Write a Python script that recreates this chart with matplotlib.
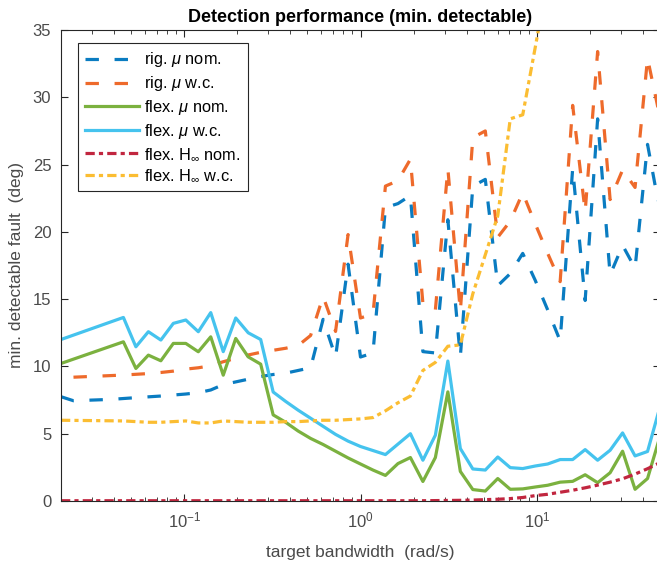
import numpy as np
import matplotlib
matplotlib.use('Agg')
import matplotlib.pyplot as plt

nan = np.nan

# target bandwidth grid (rad/s)
bandwidth = [0.02, 0.02354, 0.02771, 0.03262, 0.03839, 0.04519, 0.05319, 0.06261,
             0.07369, 0.08674, 0.1021, 0.1202, 0.1414, 0.1665, 0.1960, 0.2307,
             0.2715, 0.3196, 0.3762, 0.4428, 0.5212, 0.6135, 0.7221, 0.8500,
             1.0, 1.177, 1.385, 1.631, 1.919, 2.259, 2.659, 3.130,
             3.684, 4.337, 5.105, 6.008, 7.072, 8.324, 9.798, 11.53,
             13.57, 15.98, 18.81, 22.14, 26.06, 30.67, 36.10, 42.49, 50.0]

rig_mu_nom = [7.75, 7.45, nan, nan, 7.55, nan, 7.68, nan,
              7.8, nan, 7.95, 8.05, 8.25, 8.65, 8.85, 9.05,
              9.25, 9.4, 9.5, 9.7, 9.9, 13.5, 10.7, 17.6,
              10.7, 11.0, 21.8, 22.1, 22.7, 11.1, 11.0, 20.9,
              10.7, 23.4, 23.9, 16.0, 16.9, 18.4, 16.4, 14.2,
              11.9, 24.7, 14.9, 28.4, 16.8, 19.0, 17.3, 26.5, 21.5]

rig_mu_wc = [nan, 9.2, nan, 9.28, nan, 9.36, nan, 9.47,
             9.55, 9.65, 9.8, 9.9, 10.05, 10.35, 10.6, 10.85,
             11.05, 11.2, 11.35, 11.55, 12.3, 15.2, 12.6, 19.8,
             13.6, 13.9, 23.4, 23.8, 25.4, 14.7, 14.2, 24.7,
             14.1, 27.0, 27.5, 19.6, 20.8, 22.9, 20.6, 18.4,
             16.3, 29.4, 21.5, 33.4, 22.4, 24.6, 23.3, 32.9, 28.5]

flex_mu_nom = [10.22, nan, nan, nan, nan, 11.83, 9.85, 10.84,
               10.42, 11.71, 11.71, 11.09, 12.2, 9.35, 12.08, 10.71,
               10.17, 6.4, 5.85, 5.2, 4.65, 4.2, 3.7, 3.2,
               2.75, 2.3, 1.9, 2.78, 3.23, 1.45, 3.23, 8.11,
               2.2, 0.85, 0.74, 1.67, 0.87, 0.9, 1.04, 1.17,
               1.4, 1.46, 1.95, 1.36, 2.1, 3.7, 0.87, 1.67, 4.8]

flex_mu_wc = [12.0, nan, nan, nan, nan, 13.64, 11.46, 12.58,
              11.96, 13.2, 13.45, 12.58, 14.0, 11.1, 13.6, 12.5,
              12.0, 8.1, 7.4, 6.75, 6.15, 5.55, 4.95, 4.45,
              4.05, 3.75, 3.45, nan, 5.0, 3.03, 4.89, 10.4,
              3.9, 2.38, 2.3, 3.27, 2.48, 2.41, 2.6, 2.75,
              3.08, 3.08, 3.82, 3.03, 3.77, 5.06, 3.35, 3.68, 7.0]

flex_hinf_nom = [0.02, nan, nan, nan, nan, nan, nan, nan,
                 nan, nan, 0.02, nan, nan, nan, nan, nan,
                 nan, nan, nan, nan, 0.02, nan, nan, nan,
                 nan, nan, nan, nan, nan, 0.02, 0.03, 0.04,
                 0.05, 0.07, 0.1, 0.13, 0.18, 0.26, 0.4, 0.5,
                 0.65, 0.8, 0.98, 1.18, 1.4, 1.65, 2.0, 2.4, 2.85]

flex_hinf_wc = [6.0, nan, nan, nan, nan, 5.95, 5.9, 5.85,
                5.85, 5.9, 5.95, 5.8, 5.8, 5.95, 5.9, 5.85,
                5.85, 5.85, 5.9, 5.9, 5.95, 6.0, 6.0, 6.05,
                6.1, 6.2, 6.7, 7.3, 7.8, 9.7, 10.3, 11.5,
                11.6, 15.4, 18.3, 21.2, 28.4, 28.7, 33.7, 38.8,
                nan, nan, nan, nan, nan, nan, nan, nan, nan]

series_labels = ['rig. $\\mu$ nom.', 'rig. $\\mu$ w.c.', 'flex. $\\mu$ nom.',
                 'flex. $\\mu$ w.c.', 'flex. H$_\\infty$ nom.', 'flex. H$_\\infty$ w.c.']
series = [rig_mu_nom, rig_mu_wc, flex_mu_nom, flex_mu_wc, flex_hinf_nom, flex_hinf_wc]

colors = ['#0A7CC1', '#EE6A2B', '#7BB13F', '#45C3EE', '#C1263F', '#FBBD32']
LW = 2.3
dashed = (0, (4.2, 4.9))
dashdot = (0, (2.9, 1.3, 1.3, 1.3))
styles = [dashed, dashed, '-', '-', dashdot, dashdot]

plt.rcParams['font.family'] = ['Liberation Sans', 'DejaVu Sans']
plt.rcParams['mathtext.fontset'] = 'custom'
plt.rcParams['mathtext.rm'] = 'Liberation Sans'
plt.rcParams['mathtext.it'] = 'Liberation Sans:italic'

fig = plt.figure(figsize=(6.57, 5.68), dpi=100)
ax = fig.add_axes([61 / 657, 67 / 568, 599 / 657, 471 / 568])

x_all = np.array(bandwidth)
for vals, lab, col, ls in zip(series, series_labels, colors, styles):
    y = np.array(vals, dtype=float)
    m = np.isfinite(y)
    ax.plot(x_all[m], y[m], color=col, linestyle=ls, lw=LW, label=lab,
            dash_capstyle='butt')

ax.set_xscale('log')
ax.set_xlim(0.02, 50)
ax.set_ylim(0, 35)
ax.set_yticks(np.arange(0, 36, 5))

axcol = '#262626'
txtcol = '#4A4A4A'
for s in ax.spines.values():
    s.set_color(axcol)
    s.set_linewidth(0.8)
ax.tick_params(which='both', direction='in', top=True, right=True,
               color=axcol, labelcolor=txtcol, labelsize=12)
ax.tick_params(which='major', length=5, width=0.8, pad=7)
ax.tick_params(which='minor', length=3, width=0.6)

ax.set_title('Detection performance (min. detectable)', fontweight='bold',
             fontsize=13, pad=6, color='black')
ax.set_xlabel('target bandwidth  (rad/s)', fontsize=12.5, color=txtcol, labelpad=10)
ax.set_ylabel('min. detectable fault  (deg)', fontsize=12.5, color=txtcol, labelpad=6)

leg = ax.legend(loc='upper left', bbox_to_anchor=(0.0284, 0.9724), borderaxespad=0,
                fontsize=11.8, handlelength=3.3, handletextpad=0.3,
                labelspacing=0.3, borderpad=0.45, fancybox=False, framealpha=1)
leg.get_frame().set_edgecolor(axcol)
leg.get_frame().set_linewidth(0.8)

fig.savefig('out.png', dpi=100)
